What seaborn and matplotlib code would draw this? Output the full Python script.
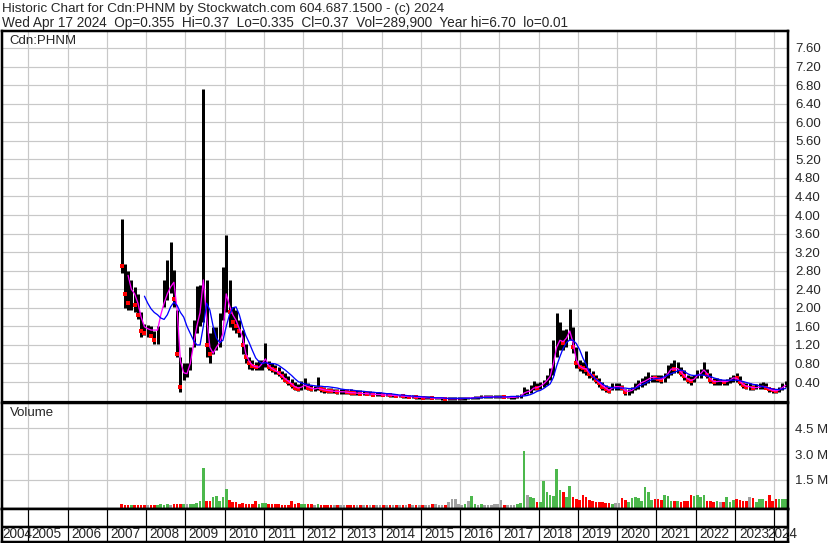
import numpy as np
import pandas as pd
import matplotlib
matplotlib.use("Agg")
import matplotlib.pyplot as plt
import seaborn as sns

# ---------------- data (monthly) ----------------
START_YEAR = 2007
START_MONTH = 5          # first month shown: May 2007

HIGH = [
    3.91, 2.95, 2.80, 2.60, 2.45, 2.30, 1.90, 1.66,                      # 2007 May-Dec
    1.62, 1.60, 1.50, 1.60, 1.55, 2.60, 3.03, 3.42, 2.82, 1.95, 0.94, 0.80,  # 2008
    0.80, 1.16, 1.73, 2.46, 2.50, 6.71, 2.60, 1.45, 1.59, 1.59, 1.88, 2.89,  # 2009
    3.57, 2.60, 2.02, 1.95, 1.73, 1.52, 1.23, 0.94, 0.87, 0.83, 0.87, 0.87,  # 2010
    1.25, 0.85, 0.80, 0.76, 0.72, 0.64, 0.60, 0.54, 0.46, 0.40, 0.36, 0.42,  # 2011
    0.48, 0.38, 0.34, 0.32, 0.50, 0.30, 0.29, 0.28, 0.27, 0.26, 0.26, 0.25,  # 2012
    0.25, 0.24, 0.24, 0.23, 0.23, 0.22, 0.21, 0.21, 0.20, 0.19, 0.19, 0.18,  # 2013
    0.17, 0.17, 0.16, 0.15, 0.14, 0.13, 0.13, 0.12, 0.12, 0.11, 0.10, 0.10,  # 2014
    0.10, 0.09, 0.09, 0.09, 0.08, 0.08, 0.08, 0.08, 0.07, 0.07, 0.07, 0.07,  # 2015
    0.07, 0.07, 0.08, 0.08, 0.09, 0.10, 0.11, 0.12, 0.11, 0.11, 0.12, 0.11,  # 2016
    0.11, 0.11, 0.10, 0.10, 0.10, 0.11, 0.14, 0.29, 0.25, 0.33, 0.43, 0.37,  # 2017
    0.41, 0.44, 0.55, 0.70, 1.30, 1.89, 1.70, 1.52, 1.55, 1.97, 1.59, 1.16,  # 2018
    0.88, 0.84, 1.06, 0.70, 0.63, 0.55, 0.48, 0.41, 0.34, 0.30, 0.37, 0.37,  # 2019
    0.37, 0.34, 0.26, 0.26, 0.30, 0.37, 0.44, 0.48, 0.52, 0.62, 0.55, 0.55,  # 2020
    0.55, 0.55, 0.59, 0.77, 0.81, 0.88, 0.84, 0.73, 0.66, 0.55, 0.52, 0.55,  # 2021
    0.66, 0.68, 0.84, 0.68, 0.59, 0.48, 0.48, 0.47, 0.44, 0.47, 0.50, 0.55,  # 2022
    0.59, 0.52, 0.41, 0.37, 0.37, 0.34, 0.35, 0.37, 0.41, 0.37, 0.30, 0.28,  # 2023
    0.26, 0.30, 0.37, 0.43,                                               # 2024 Jan-Apr
]
LOW = [
    2.75, 2.00, 1.95, 1.95, 1.90, 1.75, 1.37, 1.41,
    1.37, 1.37, 1.23, 1.23, 1.55, 2.02, 2.17, 2.31, 2.02, 0.94, 0.18, 0.44,
    0.51, 0.65, 1.16, 1.45, 1.60, 1.70, 0.94, 0.80, 1.01, 1.09, 1.16, 1.73,
    1.90, 1.59, 1.52, 1.45, 1.37, 1.01, 0.80, 0.69, 0.65, 0.65, 0.65, 0.65,
    0.72, 0.66, 0.62, 0.58, 0.54, 0.47, 0.40, 0.33, 0.27, 0.23, 0.20, 0.23,
    0.26, 0.23, 0.20, 0.20, 0.22, 0.19, 0.17, 0.17, 0.16, 0.16, 0.15, 0.15,
    0.15, 0.14, 0.13, 0.13, 0.12, 0.12, 0.12, 0.11, 0.11, 0.10, 0.10, 0.10,
    0.09, 0.09, 0.08, 0.08, 0.07, 0.07, 0.06, 0.06, 0.05, 0.05, 0.04, 0.04,
    0.04, 0.04, 0.03, 0.03, 0.03, 0.03, 0.02, 0.02, 0.02, 0.02, 0.02, 0.02,
    0.02, 0.02, 0.03, 0.03, 0.04, 0.04, 0.05, 0.05, 0.05, 0.05, 0.05, 0.05,
    0.05, 0.05, 0.05, 0.04, 0.04, 0.05, 0.06, 0.12, 0.15, 0.16, 0.22, 0.23,
    0.26, 0.30, 0.33, 0.44, 0.55, 0.95, 1.09, 1.09, 1.16, 1.30, 1.02, 0.70,
    0.63, 0.59, 0.55, 0.48, 0.44, 0.37, 0.30, 0.23, 0.19, 0.16, 0.23, 0.23,
    0.23, 0.23, 0.12, 0.13, 0.16, 0.23, 0.26, 0.30, 0.34, 0.37, 0.41, 0.41,
    0.41, 0.37, 0.41, 0.48, 0.55, 0.59, 0.59, 0.52, 0.44, 0.37, 0.34, 0.41,
    0.48, 0.48, 0.55, 0.48, 0.37, 0.34, 0.34, 0.34, 0.34, 0.34, 0.37, 0.41,
    0.41, 0.34, 0.27, 0.26, 0.23, 0.23, 0.24, 0.24, 0.26, 0.24, 0.19, 0.16,
    0.16, 0.19, 0.23, 0.30,
]
CLOSE = [
    2.90, 2.30, 2.10, 2.20, 2.05, 1.85, 1.50, 1.45,
    1.45, 1.40, 1.30, 1.50, 2.20, 2.30, 2.60, 2.60, 2.20, 1.00, 0.30, 0.60,
    0.60, 1.00, 1.50, 1.70, 2.00, 2.20, 1.20, 1.00, 1.20, 1.30, 1.50, 2.30,
    2.50, 1.90, 1.70, 1.60, 1.50, 1.20, 0.95, 0.80, 0.75, 0.72, 0.75, 0.78,
    0.85, 0.72, 0.68, 0.65, 0.60, 0.52, 0.45, 0.40, 0.33, 0.28, 0.25, 0.30,
    0.35, 0.28, 0.25, 0.25, 0.28, 0.24, 0.22, 0.21, 0.20, 0.20, 0.19, 0.19,
    0.19, 0.18, 0.17, 0.16, 0.16, 0.15, 0.15, 0.14, 0.14, 0.13, 0.13, 0.13,
    0.12, 0.12, 0.11, 0.11, 0.10, 0.10, 0.09, 0.09, 0.08, 0.08, 0.07, 0.07,
    0.06, 0.06, 0.06, 0.05, 0.05, 0.05, 0.05, 0.04, 0.04, 0.04, 0.04, 0.04,
    0.04, 0.05, 0.05, 0.06, 0.07, 0.07, 0.08, 0.08, 0.08, 0.08, 0.08, 0.08,
    0.08, 0.07, 0.07, 0.07, 0.07, 0.08, 0.10, 0.20, 0.20, 0.22, 0.30, 0.28,
    0.32, 0.38, 0.45, 0.55, 0.90, 1.20, 1.30, 1.25, 1.40, 1.45, 1.15, 0.80,
    0.72, 0.70, 0.65, 0.58, 0.52, 0.45, 0.38, 0.30, 0.25, 0.20, 0.30, 0.30,
    0.30, 0.27, 0.18, 0.20, 0.22, 0.30, 0.35, 0.40, 0.42, 0.45, 0.50, 0.48,
    0.47, 0.45, 0.50, 0.60, 0.70, 0.68, 0.70, 0.60, 0.52, 0.45, 0.42, 0.47,
    0.55, 0.58, 0.70, 0.55, 0.45, 0.40, 0.42, 0.42, 0.40, 0.42, 0.45, 0.50,
    0.48, 0.40, 0.33, 0.30, 0.30, 0.27, 0.28, 0.30, 0.32, 0.28, 0.24, 0.22,
    0.20, 0.24, 0.30, 0.37,
]
VOLUME_M = [
    0.08, 0.07, 0.06, 0.06, 0.07, 0.06, 0.07, 0.06,
    0.06, 0.07, 0.06, 0.07, 0.08, 0.07, 0.08, 0.07, 0.08, 0.10, 0.12, 0.09,
    0.08, 0.10, 0.12, 0.15, 0.30, 2.20, 0.30, 0.25, 0.50, 0.55, 0.30, 0.50,
    0.95, 0.35, 0.20, 0.20, 0.12, 0.15, 0.12, 0.12, 0.10, 0.30, 0.12, 0.15,
    0.15, 0.10, 0.08, 0.08, 0.08, 0.07, 0.07, 0.07, 0.30, 0.10, 0.14, 0.08,
    0.12, 0.08, 0.08, 0.07, 0.10, 0.07, 0.06, 0.06, 0.06, 0.06, 0.06, 0.06,
    0.06, 0.05, 0.05, 0.05, 0.05, 0.05, 0.05, 0.05, 0.05, 0.06, 0.04, 0.04,
    0.03, 0.03, 0.03, 0.04, 0.04, 0.04, 0.05, 0.04, 0.10, 0.05, 0.04, 0.04,
    0.04, 0.04, 0.05, 0.10, 0.08, 0.05, 0.05, 0.06, 0.20, 0.38, 0.38, 0.10,
    0.06, 0.10, 0.27, 0.58, 0.08, 0.06, 0.08, 0.06, 0.06, 0.07, 0.08, 0.08,
    0.35, 0.05, 0.05, 0.05, 0.05, 0.08, 0.15, 3.20, 0.62, 0.50, 0.45, 0.20,
    0.20, 1.46, 0.80, 0.60, 0.55, 2.13, 0.90, 0.80, 0.50, 1.15, 0.50, 0.40,
    0.35, 0.63, 0.53, 0.35, 0.25, 0.20, 0.22, 0.20, 0.18, 0.15, 0.12, 0.15,
    0.15, 0.46, 0.35, 0.20, 0.45, 0.50, 0.45, 0.30, 1.06, 0.80, 0.35, 0.40,
    0.40, 0.35, 0.60, 0.55, 0.30, 0.25, 0.25, 0.22, 0.25, 0.30, 0.60, 0.55,
    0.60, 0.50, 0.60, 0.30, 0.25, 0.20, 0.25, 0.20, 0.20, 0.48, 0.20, 0.35,
    0.40, 0.35, 0.30, 0.25, 0.50, 0.45, 0.20, 0.40, 0.40, 0.25, 0.60, 0.30,
    0.40, 0.38, 0.40, 0.38,
]
# short moving average (magenta), starts July 2007
MA_SHORT_START = (2007, 7)
MA_SHORT = [
    2.70, 2.40, 2.30, 2.10, 1.80, 1.59,
    1.55, 1.52, 1.52, 1.52, 1.85, 2.10, 2.30, 2.45, 2.55, 1.95, 0.85, 0.60,
    0.58, 0.80, 1.20, 1.60, 1.90, 2.60, 1.80, 1.15, 1.02, 1.15, 1.25, 1.45,
    2.30, 2.05, 1.85, 1.73, 1.55, 1.37, 1.01, 0.85, 0.76, 0.73, 0.72, 0.80,
    0.90, 0.75, 0.69, 0.65, 0.60, 0.54, 0.47, 0.42, 0.36, 0.30, 0.27, 0.29,
    0.33, 0.30, 0.27, 0.25, 0.27, 0.25, 0.23, 0.22, 0.21, 0.20, 0.20, 0.19,
    0.19, 0.18, 0.17, 0.17, 0.16, 0.16, 0.15, 0.15, 0.14, 0.14, 0.13, 0.13,
    0.12, 0.12, 0.12, 0.11, 0.11, 0.10, 0.10, 0.09, 0.09, 0.08, 0.08, 0.07,
    0.07, 0.06, 0.06, 0.06, 0.05, 0.05, 0.05, 0.05, 0.04, 0.04, 0.04, 0.04,
    0.04, 0.05, 0.05, 0.06, 0.06, 0.07, 0.07, 0.08, 0.08, 0.08, 0.08, 0.08,
    0.08, 0.08, 0.07, 0.07, 0.07, 0.08, 0.09, 0.16, 0.19, 0.21, 0.27, 0.28,
    0.31, 0.36, 0.43, 0.52, 0.80, 1.15, 1.30, 1.27, 1.35, 1.50, 1.25, 0.88,
    0.74, 0.70, 0.68, 0.60, 0.53, 0.46, 0.39, 0.32, 0.27, 0.22, 0.27, 0.30,
    0.30, 0.28, 0.21, 0.20, 0.22, 0.27, 0.34, 0.39, 0.42, 0.46, 0.50, 0.49,
    0.47, 0.46, 0.49, 0.58, 0.68, 0.68, 0.69, 0.62, 0.54, 0.47, 0.43, 0.46,
    0.54, 0.58, 0.66, 0.58, 0.47, 0.41, 0.41, 0.42, 0.41, 0.41, 0.44, 0.49,
    0.48, 0.42, 0.35, 0.31, 0.30, 0.28, 0.28, 0.29, 0.31, 0.29, 0.25, 0.22,
    0.21, 0.23, 0.28, 0.33,
]
# long moving average (blue), starts December 2007
MA_LONG_START = (2007, 12)
MA_LONG = [
    2.25,
    2.10, 1.98, 1.90, 1.85, 1.78, 1.75, 1.85, 2.02, 2.12, 2.05, 1.90, 1.80,
    1.60, 1.45, 1.30, 1.20, 1.20, 1.60, 2.10, 1.95, 1.60, 1.35, 1.25, 1.30,
    1.60, 1.85, 2.00, 2.02, 1.85, 1.60, 1.40, 1.25, 1.08, 0.92, 0.84, 0.80,
    0.82, 0.80, 0.80, 0.79, 0.76, 0.71, 0.66, 0.60, 0.54, 0.47, 0.41, 0.38,
    0.36, 0.34, 0.33, 0.32, 0.31, 0.31, 0.30, 0.30, 0.29, 0.28, 0.27, 0.25,
    0.24, 0.23, 0.23, 0.22, 0.21, 0.20, 0.20, 0.19, 0.18, 0.18, 0.17, 0.17,
    0.16, 0.15, 0.15, 0.14, 0.13, 0.12, 0.12, 0.11, 0.10, 0.10, 0.09, 0.09,
    0.08, 0.08, 0.07, 0.07, 0.06, 0.06, 0.06, 0.05, 0.05, 0.05, 0.05, 0.05,
    0.05, 0.05, 0.05, 0.05, 0.06, 0.06, 0.06, 0.07, 0.07, 0.07, 0.08, 0.08,
    0.08, 0.08, 0.08, 0.09, 0.09, 0.09, 0.09, 0.10, 0.11, 0.13, 0.16, 0.20,
    0.22, 0.26, 0.31, 0.36, 0.50, 0.75, 0.95, 1.13, 1.25, 1.31, 1.30, 1.23,
    1.10, 0.92, 0.78, 0.62, 0.52, 0.46, 0.41, 0.36, 0.31, 0.29, 0.28, 0.27,
    0.27, 0.27, 0.27, 0.26, 0.26, 0.27, 0.30, 0.34, 0.37, 0.41, 0.45, 0.47,
    0.48, 0.49, 0.52, 0.55, 0.58, 0.61, 0.64, 0.66, 0.63, 0.58, 0.55, 0.54,
    0.55, 0.55, 0.55, 0.53, 0.52, 0.49, 0.47, 0.45, 0.44, 0.44, 0.44, 0.44,
    0.44, 0.43, 0.41, 0.39, 0.37, 0.35, 0.34, 0.32, 0.30, 0.29, 0.27, 0.25,
    0.24, 0.24, 0.25, 0.26,
]

PRICE_TICKS = [0.40, 0.80, 1.20, 1.60, 2.00, 2.40, 2.80, 3.20, 3.60, 4.00,
               4.40, 4.80, 5.20, 5.60, 6.00, 6.40, 6.80, 7.20, 7.60]
VOL_TICKS_M = [1.5, 3.0, 4.5]
VOL_TICK_LABELS = ["1.5 M", "3.0 M", "4.5 M"]
YEARS = list(range(2004, 2025))

TITLE_1 = "Historic Chart for Cdn:PHNM by Stockwatch.com 604.687.1500 - (c) 2024"
TITLE_2 = ("Wed Apr 17 2024  Op=0.355  Hi=0.37  Lo=0.335  Cl=0.37  "
           "Vol=289,900  Year hi=6.70  lo=0.01")
SYMBOL = "Cdn:PHNM"
VOL_LABEL = "Volume"

# ---------------- helpers ----------------
def month_times(y0, m0, n):
    return [y0 + (m0 - 1 + i) / 12.0 + 1 / 24.0 for i in range(n)]

t_px = month_times(START_YEAR, START_MONTH, len(CLOSE))
df = pd.DataFrame({"t": t_px, "high": HIGH, "low": LOW, "close": CLOSE,
                   "vol": np.array(VOLUME_M) * 1e6})
prev = df["close"].shift(1)
df["dir"] = np.where(df["close"] > prev, "up",
                     np.where(df["close"] < prev, "down", "flat"))
df.loc[0, "dir"] = "down"

ma_s = pd.DataFrame({"t": month_times(*MA_SHORT_START, len(MA_SHORT)), "v": MA_SHORT})
ma_l = pd.DataFrame({"t": month_times(*MA_LONG_START, len(MA_LONG)), "v": MA_LONG})

# ---------------- figure ----------------
sns.set_theme(style="white")
plt.rcParams["font.family"] = ["Liberation Sans", "DejaVu Sans"]

W, H = 830, 543
fig = plt.figure(figsize=(W / 100, H / 100), dpi=100)
fig.patch.set_facecolor("white")

PX = 72 / 100.0  # points per pixel

def rect(x0, y_top, x1, y_bot):
    return [x0 / W, 1 - y_bot / H, (x1 - x0) / W, (y_bot - y_top) / H]

X_LEFT, X_RIGHT = 1.5, 788
ax_p = fig.add_axes(rect(X_LEFT, 31, X_RIGHT, 400.6))
ax_v = fig.add_axes(rect(X_LEFT, 403, X_RIGHT, 509))
ax_x = fig.add_axes(rect(X_LEFT, 509, X_RIGHT, 541.5))

# x-range in decimal years (year lines every ~39.26 px, 2005 at x=28.3)
def px_to_year(px):
    return 2005 + (px - 28.3) / 39.26
XMIN, XMAX = px_to_year(X_LEFT), px_to_year(X_RIGHT)

GRID = "#c8c8c8"
for ax in (ax_p, ax_v, ax_x):
    ax.set_xlim(XMIN, XMAX)
    ax.set_facecolor("white")
    ax.set_xticks([])
    ax.set_yticks([])
    for s in ax.spines.values():
        s.set_color("black")

# ----- price panel -----
ax_p.set_ylim(0, 7.966)
for y in YEARS[1:]:
    ax_p.axvline(y, color=GRID, lw=1.2 * PX, zorder=0)
for p in PRICE_TICKS:
    ax_p.axhline(p, color=GRID, lw=1.2 * PX, zorder=0)

ax_p.vlines(df["t"], df["low"], df["high"], color="black", lw=3.0 * PX, zorder=2)
down = df[df["dir"] == "down"]
sns.scatterplot(data=down, x="t", y="close", ax=ax_p, color="#ff0000",
                marker="s", s=7, linewidth=0, zorder=3, legend=False)
sns.lineplot(data=ma_s, x="t", y="v", ax=ax_p, color="#ff00ff",
             lw=1.3 * PX, zorder=4, legend=False)
sns.lineplot(data=ma_l, x="t", y="v", ax=ax_p, color="#0000ff",
             lw=1.3 * PX, zorder=5, legend=False)

ax_p.yaxis.tick_right()
ax_p.set_yticks(PRICE_TICKS)
ax_p.set_yticklabels([f"{p:.2f}" for p in PRICE_TICKS], fontsize=9.5)
ax_p.tick_params(axis="y", length=0, pad=5)
ax_p.set_xlabel("")
ax_p.set_ylabel("")
ax_p.spines["top"].set_linewidth(2.5 * PX)
ax_p.spines["left"].set_linewidth(2.5 * PX)
ax_p.spines["right"].set_linewidth(2.5 * PX)
ax_p.spines["bottom"].set_linewidth(1.2 * PX)
ax_p.text(8 / (X_RIGHT - X_LEFT), 1 - 10 / 369.6, SYMBOL, transform=ax_p.transAxes,
          fontsize=9.5, va="center", ha="left")

# ----- volume panel -----
VMIN, VMAX = -0.19e6, 5.97e6
ax_v.set_ylim(VMIN, VMAX)
for y in YEARS[1:]:
    ax_v.axvline(y, color=GRID, lw=1.2 * PX, zorder=0)
for v in VOL_TICKS_M:
    ax_v.axhline(v * 1e6, color=GRID, lw=1.2 * PX, zorder=0)
VCOL = {"up": "#4cb84c", "down": "#ff0000", "flat": "#a0a0a0"}
ax_v.bar(df["t"], df["vol"] - VMIN, bottom=VMIN, width=1 / 12 * 0.8,
         color=[VCOL[d] for d in df["dir"]], linewidth=0, zorder=2)
ax_v.yaxis.tick_right()
ax_v.set_yticks([v * 1e6 for v in VOL_TICKS_M])
ax_v.set_yticklabels(VOL_TICK_LABELS, fontsize=9.5)
ax_v.tick_params(axis="y", length=0, pad=5)
ax_v.spines["top"].set_linewidth(2.5 * PX)
ax_v.spines["left"].set_linewidth(2.5 * PX)
ax_v.spines["right"].set_linewidth(2.5 * PX)
ax_v.spines["bottom"].set_linewidth(2.5 * PX)
ax_v.text(8 / (X_RIGHT - X_LEFT), 1 - 10 / 106, VOL_LABEL, transform=ax_v.transAxes,
          fontsize=9.5, va="center", ha="left")

# ----- year strip -----
ax_x.set_ylim(0, 1)
for y in YEARS[1:]:
    ax_x.axvline(y, color="black", lw=1.2 * PX, zorder=1)
ax_x.axhline(14.5 / 32.5, color="black", lw=2.5 * PX, zorder=2)
for s in ("left", "right", "bottom", "top"):
    ax_x.spines[s].set_linewidth(2.5 * PX)
year_w = 1.0 / 39.26  # one pixel in years
for y in YEARS:
    if y == 2004:
        xpos = XMIN + 0.5 * year_w
    elif y == 2024:
        xpos = px_to_year(767.5)
    elif y == 2023:
        xpos = px_to_year(739.0)
    else:
        xpos = y + 3.5 * year_w
    ax_x.text(xpos, 7 / 32.5, str(y), fontsize=9.8, ha="left", va="center",
              clip_on=False)

# ----- title -----
fig.text(2 / W, 1 - 9 / H, TITLE_1, fontsize=9.7, ha="left", va="center")
fig.text(2 / W, 1 - 22.5 / H, TITLE_2, fontsize=9.8, ha="left", va="center")

fig.savefig("out.png", dpi=100, facecolor="white")
